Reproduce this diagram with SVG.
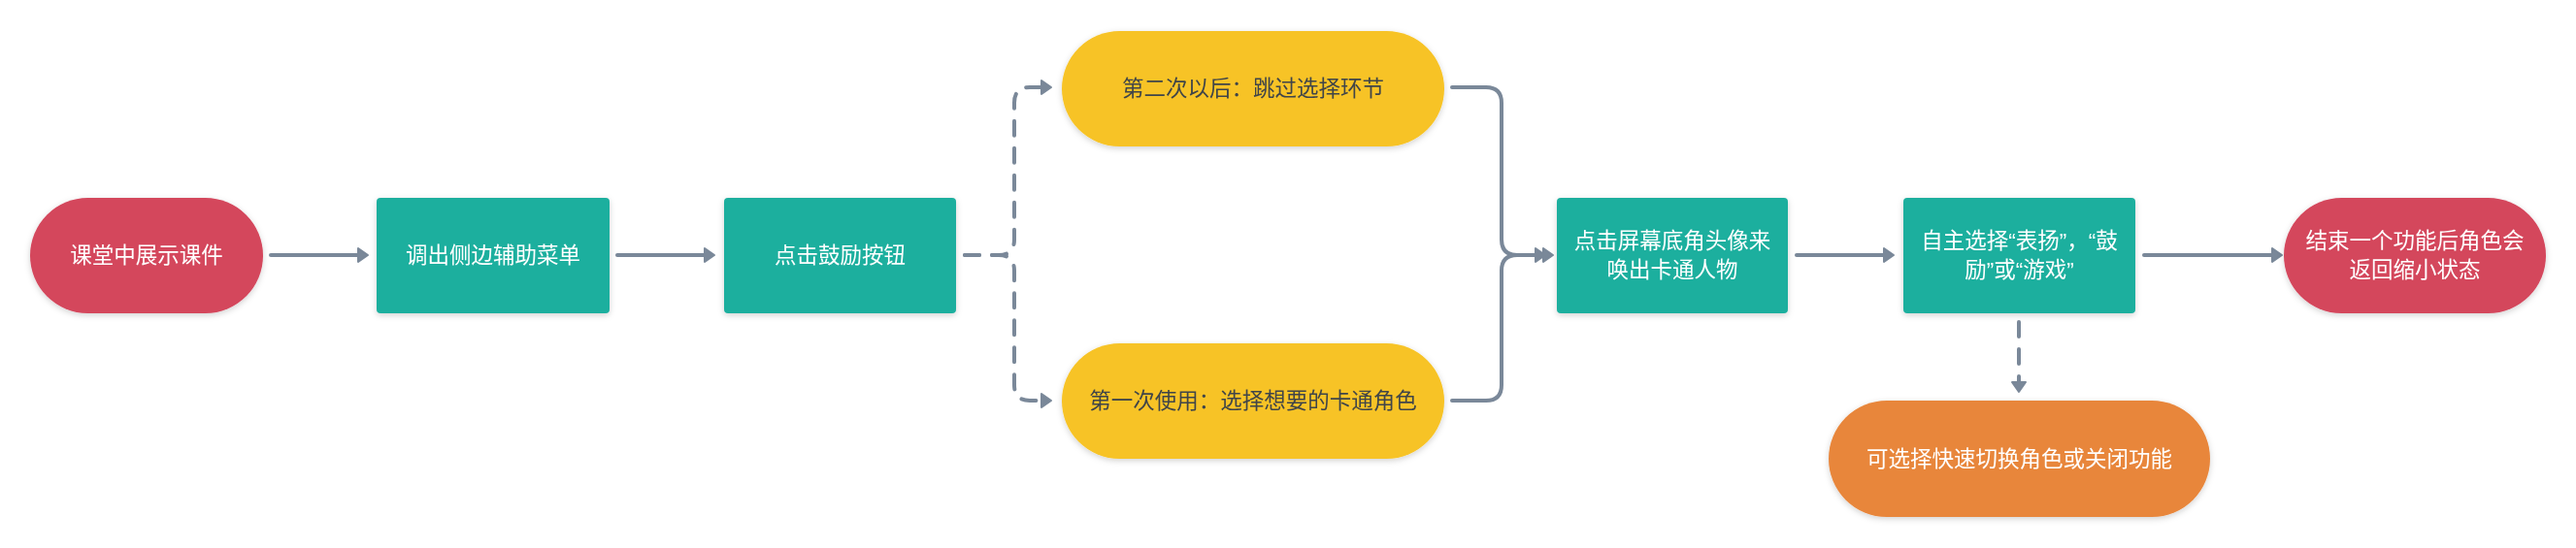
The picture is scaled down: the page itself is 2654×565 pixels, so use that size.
<svg xmlns="http://www.w3.org/2000/svg" width="2654" height="565" viewBox="0 0 2654 565">
<style>
.t{font-family:"Liberation Sans","Noto Sans CJK SC",sans-serif;font-size:22.5px;text-anchor:middle;dominant-baseline:central}
.w{fill:#ffffff}
.d{fill:#3f4448}
.red{fill:#d4465c}
.teal{fill:#1caf9e}
.yel{fill:#f7c326}
.org{fill:#e8863b}
.c{fill:none;stroke:#7a8899;stroke-width:4;stroke-linecap:round;stroke-linejoin:round}
.dash{stroke-dasharray:15 13}
</style>
<defs>
<filter id="sh" x="-10%" y="-10%" width="120%" height="130%">
<feDropShadow dx="0" dy="2" stdDeviation="3" flood-color="#000" flood-opacity="0.18"/>
</filter>
<marker id="ar" viewBox="0 0 14 18" refX="8" refY="9" markerWidth="14" markerHeight="18" markerUnits="userSpaceOnUse" orient="auto">
<path d="M2,2 L12,9 L2,16 Z" fill="#7a8899" stroke="#7a8899" stroke-width="2" stroke-linejoin="round"/>
</marker>
</defs>
<g id="connectors">
<path class="c" d="M279,263 H375" marker-end="url(#ar)"/>
<path class="c" d="M636,263 H732" marker-end="url(#ar)"/>
<path class="c dash" d="M994,263 H1029 Q1045,263 1045,247 V106 Q1045,90 1061,90 H1079" marker-end="url(#ar)"/>
<path class="c dash" d="M994,263 H1029 Q1045,263 1045,279 V397 Q1045,413 1061,413 H1079" marker-end="url(#ar)"/>
<path class="c" d="M1496,90 H1531 Q1547,90 1547,106 V247 Q1547,263 1563,263 H1596" marker-end="url(#ar)"/>
<path class="c" d="M1496,413 H1531 Q1547,413 1547,397 V279 Q1547,263 1563,263 H1588" marker-end="url(#ar)"/>
<path class="c" d="M1851,263 H1947" marker-end="url(#ar)"/>
<path class="c" d="M2209,263 H2347" marker-end="url(#ar)"/>
<path class="c dash" d="M2080,332 V400" marker-end="url(#ar)"/>
</g>
<g id="n1" filter="url(#sh)">
<rect class="red" x="31" y="204" width="240" height="119" rx="59.5"/>
<text class="t w" x="151" y="263.5">课堂中展示课件</text>
</g>
<g id="n2" filter="url(#sh)">
<rect class="teal" x="388" y="204" width="240" height="119" rx="4"/>
<text class="t w" x="508" y="263.5">调出侧边辅助菜单</text>
</g>
<g id="n3" filter="url(#sh)">
<rect class="teal" x="746" y="204" width="239" height="119" rx="4"/>
<text class="t w" x="865.5" y="263.5">点击鼓励按钮</text>
</g>
<g id="n4" filter="url(#sh)">
<rect class="yel" x="1094" y="32" width="394" height="119" rx="59.5"/>
<text class="t d" x="1291" y="91.5">第二次以后：跳过选择环节</text>
</g>
<g id="n5" filter="url(#sh)">
<rect class="yel" x="1094" y="354" width="394" height="119" rx="59.5"/>
<text class="t d" x="1291" y="413.5">第一次使用：选择想要的卡通角色</text>
</g>
<g id="n6" filter="url(#sh)">
<rect class="teal" x="1604" y="204" width="238" height="119" rx="4"/>
<text class="t w" x="1723" y="248.5">点击屏幕底角头像来</text>
<text class="t w" x="1723" y="278.5">唤出卡通人物</text>
</g>
<g id="n7" filter="url(#sh)">
<rect class="teal" x="1961" y="204" width="239" height="119" rx="4"/>
<text class="t w" x="2080.5" y="248.5">自主选择“表扬”，“鼓</text>
<text class="t w" x="2080.5" y="278.5">励”或“游戏”</text>
</g>
<g id="n8" filter="url(#sh)">
<rect class="red" x="2353" y="204" width="270" height="119" rx="59.5"/>
<text class="t w" x="2488" y="248.5">结束一个功能后角色会</text>
<text class="t w" x="2488" y="278.5">返回缩小状态</text>
</g>
<g id="n9" filter="url(#sh)">
<rect class="org" x="1884" y="413" width="393" height="120" rx="60"/>
<text class="t w" x="2080.5" y="473">可选择快速切换角色或关闭功能</text>
</g>
</svg>
